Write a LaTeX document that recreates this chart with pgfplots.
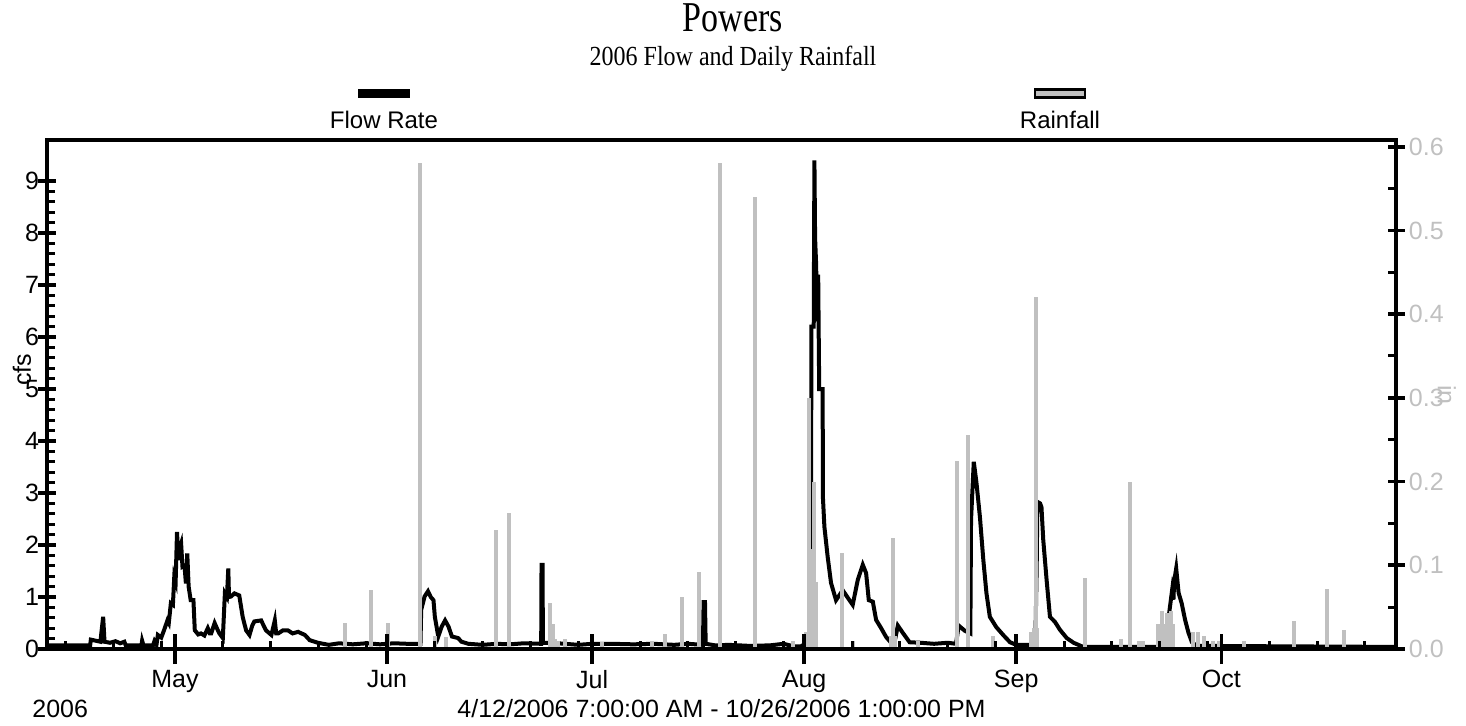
\documentclass[border=0pt]{standalone}
\usepackage{pgfplots}
\pgfplotsset{compat=1.18}
\usepackage{graphicx}
\usepackage{fontspec}
\setmainfont{Liberation Sans}
\newfontfamily\seriffont{Liberation Serif}
\definecolor{rain}{RGB}{192,192,192}
\begin{document}
\begin{tikzpicture}[x=1pt,y=1pt]
\path[use as bounding box] (0,0) rectangle (733,362.5);
\pgfplotsset{
  every axis/.append style={
    scale only axis, width=674.5pt, height=254.5pt,
    at={(23.5pt,38pt)}, anchor=south west,
    xmin=102.29, xmax=299.54,
    tick label style={font=\fontsize{12.5}{15}\selectfont},
    /pgf/number format/assume math mode=true,
    axis line style={line width=2pt},
    major tick style={line width=1.8pt, black},
    minor tick style={line width=1.5pt, black},
  }
}
% ---- flow (left axis) ----
\begin{axis}[
  ymin=0, ymax=9.79,
  ytick={0,1,2,3,4,5,6,7,8,9}, minor y tick num=4, ytick pos=left,
  xtick=\empty,
  tick align=center, major tick length=8.5pt, minor tick length=4pt,
  every minor tick/.append style={xshift=2pt},
  yticklabel style={anchor=east, inner sep=0pt, xshift=0.5pt},
]
\addplot[black, line width=2pt] table {
102.29 0.07
108.6 0.07
108.7 0.18
110.1 0.14
110.5 0.62
110.7 0.14
111.5 0.12
112.3 0.15
113.0 0.11
113.6 0.14
113.8 0.07
116.1 0.07
116.2 0.16
116.4 0.07
117.8 0.07
118.0 0.15
118.3 0.08
118.5 0.27
119.0 0.22
119.4 0.36
119.9 0.55
120.1 0.50
120.4 0.88
120.7 0.85
120.9 1.39
121.1 1.30
121.3 2.25
121.5 1.71
121.7 1.95
121.9 2.03
122.1 1.58
122.4 1.60
122.6 1.26
122.8 1.84
123.0 1.20
123.3 0.94
123.7 0.94
123.9 0.36
124.4 0.28
124.8 0.30
125.3 0.26
125.8 0.40
126.1 0.30
126.3 0.30
126.8 0.50
127.2 0.38
127.5 0.30
128.0 0.21
128.3 1.07
128.6 1.00
128.8 1.55
128.9 1.00
129.2 1.01
129.7 1.07
130.4 1.03
130.9 0.62
131.4 0.36
131.9 0.27
132.3 0.45
132.6 0.53
133.6 0.55
134.3 0.36
135.1 0.27
135.6 0.55
135.8 0.30
136.1 0.30
136.8 0.36
137.5 0.36
138.2 0.30
139.0 0.33
140.0 0.27
140.7 0.17
141.9 0.12
143.5 0.08
145.0 0.11
147.0 0.09
149.0 0.11
151.0 0.09
153.0 0.11
155.0 0.10
156.9 0.10
157.0 0.75
157.5 1.01
158.0 1.11
158.4 1.00
158.8 0.94
159.0 0.62
159.5 0.24
160.0 0.43
160.5 0.55
161.0 0.43
161.5 0.24
162.4 0.21
162.9 0.14
163.9 0.10
166.0 0.08
168.0 0.10
170.0 0.09
172.0 0.11
174.55 0.10
174.6 1.62
174.75 1.62
174.8 0.12
176.0 0.12
178.0 0.10
180.0 0.08
182.0 0.10
185.0 0.10
188.0 0.09
191.0 0.10
194.0 0.08
196.0 0.10
198.2 0.08
198.3 0.90
198.5 0.90
198.6 0.10
200.0 0.07
202.0 0.08
205.0 0.06
208.0 0.07
210.0 0.10
211.5 0.05
212.5 0.05
213.2 0.10
214.0 0.12
214.05 6.2
214.4 6.2
214.5 9.4
214.6 7.9
214.75 7.4
214.9 6.3
215.05 7.2
215.2 5.0
215.7 5.0
215.75 2.9
215.96 2.35
216.44 1.77
216.93 1.27
217.66 0.94
218.64 1.13
219.62 0.94
220.1 0.85
220.84 1.33
221.57 1.62
222.06 1.46
222.45 0.94
223.04 0.91
223.52 0.56
224.26 0.40
224.99 0.23
225.72 0.12
226.2 0.12
226.7 0.45
227.43 0.31
228.42 0.13
230.0 0.12
232.0 0.10
234.0 0.12
235.2 0.10
235.6 0.45
236.5 0.35
237.3 0.30
237.4 2.48
237.8 3.60
238.0 3.40
238.2 3.19
238.7 2.54
239.2 1.71
239.65 1.08
240.15 0.62
241.1 0.42
242.1 0.27
243.1 0.13
244.0 0.08
246.8 0.08
247.0 1.58
247.1 2.83
247.5 2.80
247.7 2.73
247.96 2.10
248.45 1.33
248.94 0.62
249.68 0.52
250.4 0.37
251.4 0.21
252.4 0.12
253.8 0.04
260.0 0.04
265.9 0.04
266.04 0.37
266.3 0.62
266.8 1.13
267.0 0.95
267.1 1.30
267.4 1.55
267.75 1.08
268.2 0.88
268.7 0.56
269.2 0.31
269.7 0.13
270.4 0.06
299.54 0.04
};
\end{axis}
% ---- rainfall (right axis) ----
\begin{axis}[
  axis x line=none, axis y line*=right,
  ymin=0, ymax=0.608,
  ytick={0,0.1,0.2,0.3,0.4,0.5,0.6}, minor y tick num=1,
  xtick=\empty,
  tick align=center, major tick length=8.5pt, minor tick length=4pt,
  every minor tick/.append style={xshift=-2pt},
  yticklabel style={anchor=west, inner sep=0pt, xshift=2pt, text=rain,
    /pgf/number format/.cd, fixed, fixed zerofill, precision=1},
]
\addplot[ycomb, draw=rain, line width=2pt] table {
145.8 0.031
149.7 0.07
152.1 0.031
156.9 0.58
159.0 0.015
160.7 0.014
168.0 0.142
169.9 0.163
175.9 0.055
176.3 0.03
176.6 0.012
177.0 0.01
178.0 0.012
183.5 0.008
190.8 0.01
192.7 0.018
195.2 0.062
197.6 0.092
200.7 0.58
205.8 0.54
211.3 0.01
213.3 0.02
213.7 0.30
213.95 0.12
214.25 0.12
214.5 0.20
214.7 0.08
218.5 0.115
220.1 0.01
225.7 0.015
226.0 0.133
226.3 0.015
229.6 0.01
235.4 0.224
237.0 0.256
240.6 0.015
246.2 0.02
246.6 0.025
246.9 0.42
247.1 0.025
254.0 0.085
259.4 0.012
260.7 0.20
261.9 0.01
262.6 0.01
264.8 0.03
265.3 0.045
265.7 0.03
266.1 0.043
266.6 0.045
267.0 0.03
269.9 0.02
270.6 0.02
271.4 0.015
272.8 0.01
273.6 0.01
277.3 0.01
284.6 0.033
289.5 0.072
291.9 0.023
};
\end{axis}
% ---- date axis ----
\begin{axis}[
  axis x line*=bottom, axis y line=none,
  ymin=0, ymax=1,
  xtick={121,152,182,213,244,274},
  xticklabels={May,Jun,Jul,Aug,Sep,Oct},
  minor xtick={105,112,119,128,135,142,149,159,166,173,180,189,196,203,210,220,227,234,241,251,258,265,272,281,288,295},
  tick align=center, major tick length=15pt, minor tick length=4pt,
  every minor tick/.append style={yshift=2pt},
  xticklabel style={anchor=north, inner sep=0pt, yshift=-2.75pt},
]
\end{axis}
% ---- texts ----
\node[anchor=base, inner sep=0pt] at (366.5,347) {\scalebox{1}[1.25]{\seriffont\fontsize{17}{20}\selectfont Powers}};
\node[anchor=base, inner sep=0pt] at (366.5,330) {\scalebox{1}[1.15]{\seriffont\fontsize{12}{14}\selectfont 2006 Flow and Daily Rainfall}};
\fill[black] (179,313.5) rectangle (205,318);
\draw[fill=rain, line width=1.2pt] (517.5,313.8) rectangle (542.5,317.7);
\node[anchor=base, inner sep=0pt] at (192,298.5) {\fontsize{12}{14}\selectfont Flow Rate};
\node[anchor=base, inner sep=0pt] at (530,298.5) {\fontsize{12}{14}\selectfont Rainfall};
\node[rotate=90, inner sep=0pt] at (11,177.5) {\fontsize{12.5}{15}\selectfont cfs};
\node[rotate=-90, inner sep=0pt, text=rain] at (723.5,165) {\fontsize{12.5}{15}\selectfont in};
\node[anchor=base west, inner sep=0pt] at (16,4) {\fontsize{12.5}{15}\selectfont 2006};
\node[anchor=base, inner sep=0pt] at (360.75,4) {\fontsize{12.5}{15}\selectfont 4/12/2006 7:00:00 AM - 10/26/2006 1:00:00 PM};
\end{tikzpicture}
\end{document}
